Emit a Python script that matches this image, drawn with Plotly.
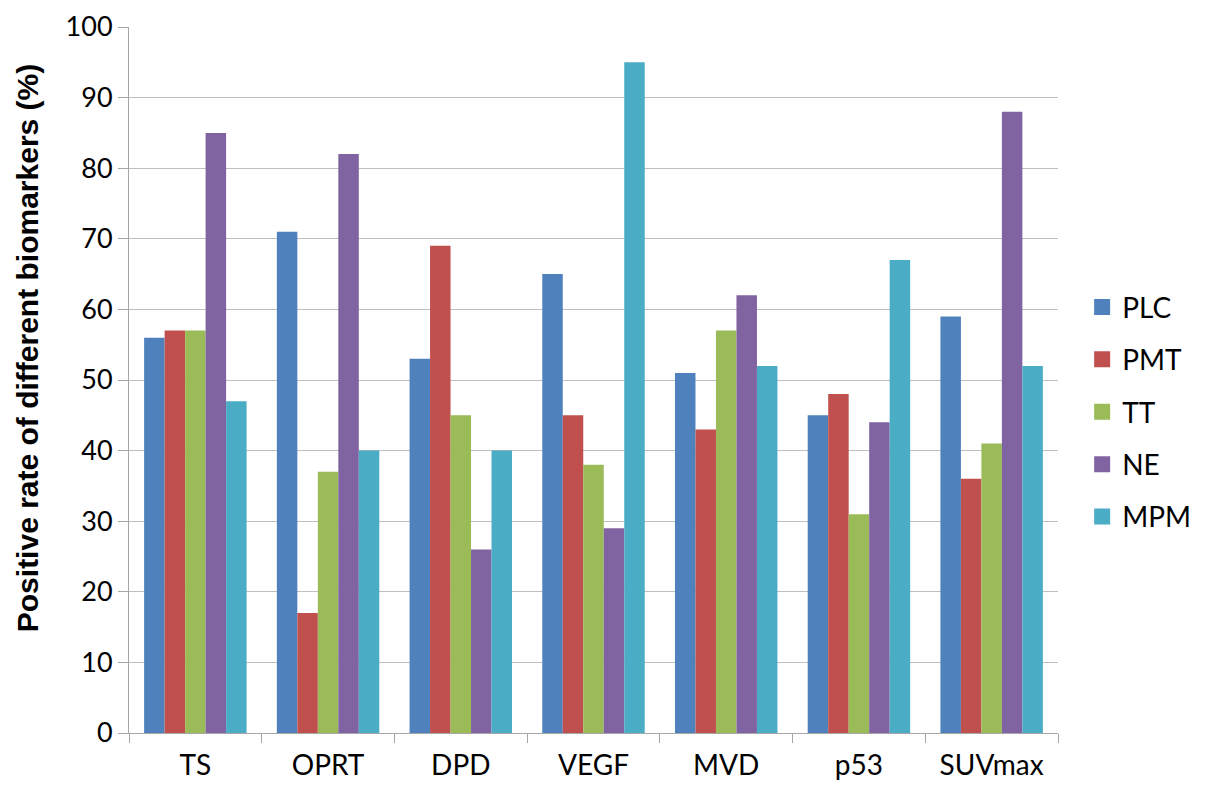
import plotly.graph_objects as go

categories = ["TS", "OPRT", "DPD", "VEGF", "MVD", "p53", "SUVmax"]
series_names = ["PLC", "PMT", "TT", "NE", "MPM"]
plc = [56, 71, 53, 65, 51, 45, 59]
pmt = [57, 17, 69, 45, 43, 48, 36]
tt = [57, 37, 45, 38, 57, 31, 41]
ne = [85, 82, 26, 29, 62, 44, 88]
mpm = [47, 40, 40, 95, 52, 67, 52]
y_ticks = [0, 10, 20, 30, 40, 50, 60, 70, 80, 90, 100]
y_title = "Positive rate of different biomarkers (%)"

colors = ["#4F81BD", "#C0504D", "#9BBB59", "#8064A2", "#4BACC6"]
values = [plc, pmt, tt, ne, mpm]

fig = go.Figure()
for name, vals, col in zip(series_names, values, colors):
    fig.add_trace(go.Bar(x=categories, y=vals, name=name, marker_color=col,
                         marker_line_width=0, showlegend=False))
# legend entries (larger square swatches)
for name, col in zip(series_names, colors):
    fig.add_trace(go.Scatter(x=[None], y=[None], mode="markers", name=name,
                             legendgroup=name,
                             marker=dict(symbol="square", size=16, color=col)))

fig.update_layout(
    width=1205, height=796,
    barmode="group", bargap=0.228, bargroupgap=0,
    plot_bgcolor="white", paper_bgcolor="white",
    margin=dict(l=121, r=155, t=19, b=71, autoexpand=False),
    font=dict(family="Lato, Open Sans, sans-serif", color="black"),
    legend=dict(x=1.026, y=0.455, xanchor="left", yanchor="middle",
                font=dict(size=28, family="Lato"), itemsizing="trace",
                tracegroupgap=13, traceorder="grouped"),
    xaxis=dict(showline=True, linecolor="#A6A6A6", linewidth=1,
               ticks="outside", ticklen=9, tickcolor="#A6A6A6",
               tickson="boundaries", tickfont=dict(size=28), showgrid=False,
               ticklabelstandoff=7, automargin=False),
    yaxis=dict(range=[0, 100], tickvals=y_ticks, showline=True,
               linecolor="#A6A6A6", linewidth=1, ticks="outside", ticklen=10,
               tickcolor="#A6A6A6", gridcolor="#BFBFBF", gridwidth=1.3,
               tickfont=dict(size=27), zeroline=False,
               ticklabeloverflow="allow", automargin=False),
    annotations=[dict(text="<b>" + y_title + "</b>", textangle=-90,
                      xref="paper", yref="paper", x=-0.1098, y=0.545,
                      xanchor="center", yanchor="middle", showarrow=False,
                      font=dict(size=30, family="Liberation Sans, Arial",
                                color="black"))],
)

fig.write_html("out.html")
